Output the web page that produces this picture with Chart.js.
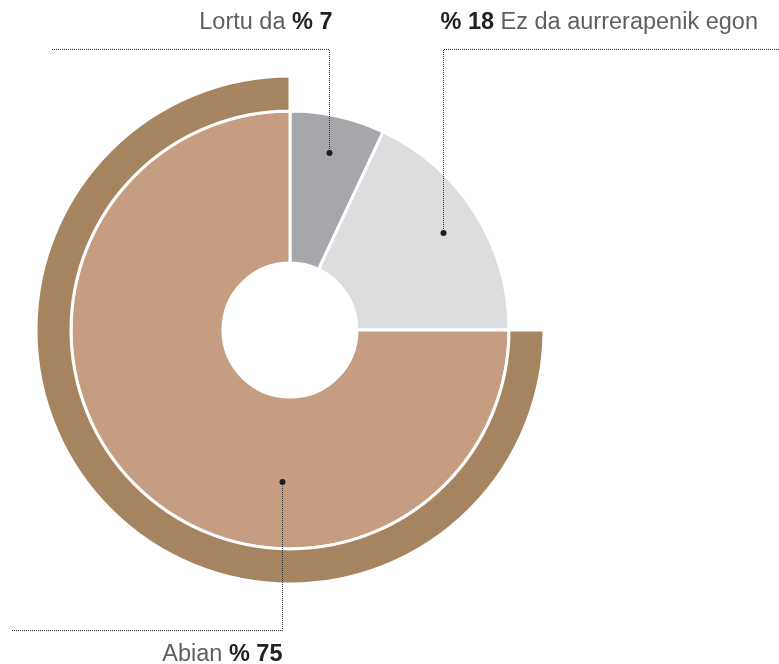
<!DOCTYPE html>
<html><head><meta charset="utf-8">
<script src="https://cdn.jsdelivr.net/npm/chart.js@4"></script>
<style>html,body{margin:0;padding:0;background:#fff}#wrap{width:779px;height:664px;position:relative}</style>
</head><body><div id="wrap"><canvas id="c" width="779" height="664"></canvas></div>
<script>
// ---- data ----
const categories = ['Lortu da', 'Ez da aurrerapenik egon', 'Abian'];
const values = [7, 18, 75];
const valueLabels = ['% 7', '% 18', '% 75'];
// outer highlight ring: rest (hidden) + "Abian"
const ringValues = [values[0] + values[1], values[2]];

// ---- styles ----
const sliceColors = ['#a6a7ab', '#dcdddf', '#c69d80'];
const ringColors = ['rgba(0,0,0,0)', '#a6845f'];
const FONT = '"Liberation Sans", Arial, Helvetica, sans-serif';
const labelLayout = [
  {af: 0.5, rf: 0.75, dir: 'up', elbowY: 49, endX: 52, textAlign: 'right', textDx: 3, textY: 23, boldFirst: false},
  {af: 0.5, rf: 0.75, dir: 'up', elbowY: 49, endX: 779, textAlign: 'left', textDx: -3, textY: 23, boldFirst: true},
  {af: 0.344, rf: 0.56, dir: 'down', elbowY: 630, endX: 12, textAlign: 'right', textDx: 0, textY: 655, boldFirst: false}
];

const annotate = {
  id: 'annotate',
  afterDraw(chart) {
    const ctx = chart.ctx;
    const meta = chart.getDatasetMeta(1);
    meta.data.forEach((arc, i) => {
      const p = arc.getProps(['x', 'y', 'startAngle', 'endAngle', 'innerRadius', 'outerRadius'], true);
      const L = labelLayout[i];
      const a = p.startAngle + (p.endAngle - p.startAngle) * L.af;
      const r = p.innerRadius + (p.outerRadius - p.innerRadius) * L.rf;
      const dx = Math.round(p.x + Math.cos(a) * r);
      const dy = Math.round(p.y + Math.sin(a) * r);
      ctx.save();
      ctx.strokeStyle = '#333';
      ctx.lineWidth = 1;
      ctx.setLineDash([1, 1]);
      ctx.beginPath();
      ctx.moveTo(dx + 0.5, dy);
      ctx.lineTo(dx + 0.5, L.elbowY + 0.5);
      ctx.lineTo(L.endX, L.elbowY + 0.5);
      ctx.stroke();
      ctx.setLineDash([]);
      ctx.fillStyle = '#1e1e1e';
      ctx.beginPath();
      ctx.arc(dx + 0.5, dy, 3, 0, Math.PI * 2);
      ctx.fill();
      // text
      const light = '400 23.5px ' + FONT, bold = '700 23.5px ' + FONT;
      const parts = L.boldFirst
        ? [[valueLabels[i] + ' ', bold, '#222'], [categories[i], light, '#5f5f5f']]
        : [[categories[i] + ' ', light, '#5f5f5f'], [valueLabels[i], bold, '#222']];
      let total = 0;
      parts.forEach(pt => { ctx.font = pt[1]; pt.push(ctx.measureText(pt[0]).width); total += pt[3]; });
      const anchorX = dx + 0.5 + L.textDx;
      let x = L.textAlign === 'right' ? anchorX - total : anchorX;
      ctx.textBaseline = 'middle';
      ctx.textAlign = 'left';
      parts.forEach(pt => { ctx.font = pt[1]; ctx.fillStyle = pt[2]; ctx.fillText(pt[0], x, L.textY); x += pt[3]; });
      ctx.restore();
    });
  }
};

new Chart(document.getElementById('c'), {
  type: 'doughnut',
  data: {
    labels: categories,
    datasets: [
      {data: ringValues, backgroundColor: ringColors, borderColor: '#fff', borderWidth: [0, 3], weight: 35, borderJoinStyle: 'miter'},
      {data: values, backgroundColor: sliceColors, borderColor: '#fff', borderWidth: 3, weight: 152, borderJoinStyle: 'miter'}
    ]
  },
  options: {
    responsive: false,
    animation: false,
    cutout: '26.4%',
    layout: {padding: {left: 34.5, right: 233.5, top: 74.5, bottom: 78.5}},
    plugins: {legend: {display: false}, tooltip: {enabled: false}}
  },
  plugins: [annotate]
});
</script></body></html>
